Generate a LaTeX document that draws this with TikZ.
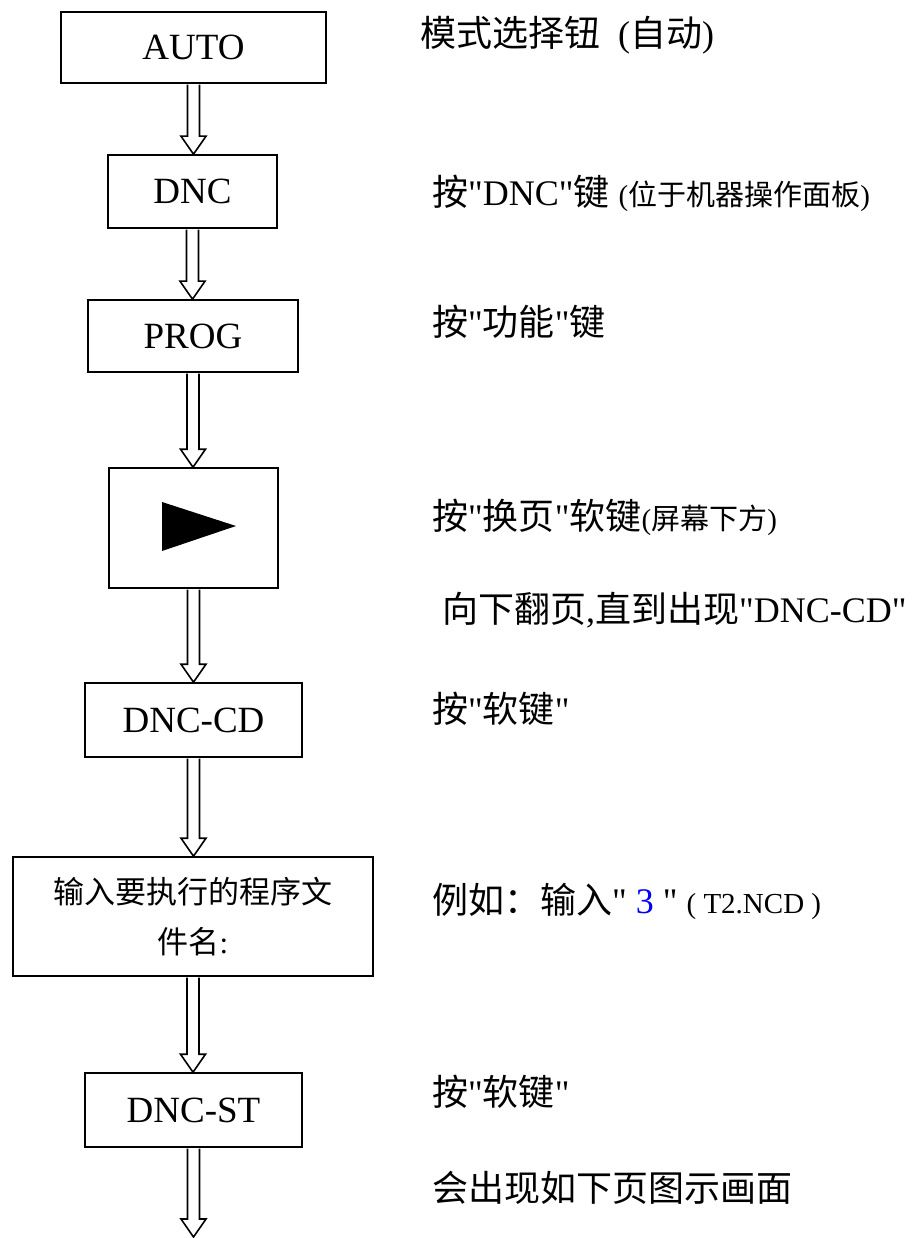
\documentclass[tikz,border=0pt]{standalone}
\usepackage{fontspec}
\setmainfont{Liberation Serif}[Ligatures=TeXOff]
\newfontfamily\cjk{Noto Sans CJK SC}
\usetikzlibrary{calc}
\newcommand\bigfs{\fontsize{37}{40}\selectfont}
\newcommand\smallfs{\fontsize{29}{32}\selectfont}
\tikzset{
  box/.style={draw, line width=1.6pt, inner sep=0pt, font=\bigfs},
  note/.style={anchor=west, inner sep=0pt, font=\fontsize{36}{40}\selectfont},
  farrow/.style={draw, fill=white, line width=1.6pt, line join=miter}
}
\newcommand\fatarrow[2]{%
  \path[farrow] let \p1=(#1), \p2=(#2) in
    (\x1-6pt,\y1-0.8pt) -- (\x1-6pt,\y2+18pt) -- (\x1-12.5pt,\y2+18pt) --
    (\x1,\y2) -- (\x1+12.5pt,\y2+18pt) -- (\x1+6pt,\y2+18pt) -- (\x1+6pt,\y1-0.8pt);}
\begin{document}
\begin{tikzpicture}[x=1pt,y=-1pt]
\useasboundingbox (0,0) rectangle (912,1238);
% boxes
\node[box, minimum width=265pt, minimum height=71pt] (auto) at (193.5,47.5) {AUTO};
\node[box, minimum width=169pt, minimum height=73pt] (dnc) at (192.5,191.5) {DNC};
\node[box, minimum width=210pt, minimum height=72pt] (prog) at (193,336) {PROG};
\node[box, minimum width=169pt, minimum height=120pt] (play) at (193.5,528) {};
\fill (162,502) -- (236,526) -- (162,551) -- cycle;
\node[box, minimum width=217pt, minimum height=74pt] (dnccd) at (193.5,720) {DNC-CD};
\node[box, minimum width=360pt, minimum height=119pt, align=center,
      font=\fontsize{31}{50}\selectfont] (input) at (193,916.5)
      {{\cjk 输入要执行的程序文}\\{\cjk 件名}:};
\node[box, minimum width=217pt, minimum height=74pt] (dncst) at (193.5,1110) {DNC-ST};
\coordinate (end) at (193.5,1237);
% arrows
\fatarrow{auto.south}{dnc.north}
\fatarrow{dnc.south}{prog.north}
\fatarrow{prog.south}{play.north}
\fatarrow{play.south}{dnccd.north}
\fatarrow{dnccd.south}{input.north}
\fatarrow{input.south}{dncst.north}
\fatarrow{dncst.south}{end}
% notes
\node[note] (n1) at (420,35) {{\cjk 模式选择钮}\ \ ({\cjk 自动})};
\node[note] (n2) at (432,193) {{\cjk 按}"DNC"{\cjk 键} {\smallfs ({\cjk 位于机器操作面板})}};
\node[note] (n3) at (432,322) {{\cjk 按}"{\cjk 功能}"{\cjk 键}};
\node[note] (n4) at (432,517) {{\cjk 按}"{\cjk 换页}"{\cjk 软键}{\smallfs ({\cjk 屏幕下方})}};
\node[note] (n5) at (442,610) {{\cjk 向下翻页},{\cjk 直到出现}"DNC-CD"};
\node[note] (n6) at (432,709) {{\cjk 按}"{\cjk 软键}"};
\node[note] (n7) at (432,901) {{\cjk 例如：输入}" \textcolor{blue}{3} " {\smallfs ( T2.NCD )}};
\node[note] (n8) at (432,1092) {{\cjk 按}"{\cjk 软键}"};
\node[note] (n9) at (432,1188) {{\cjk 会出现如下页图示画面}};
\end{tikzpicture}
\end{document}
